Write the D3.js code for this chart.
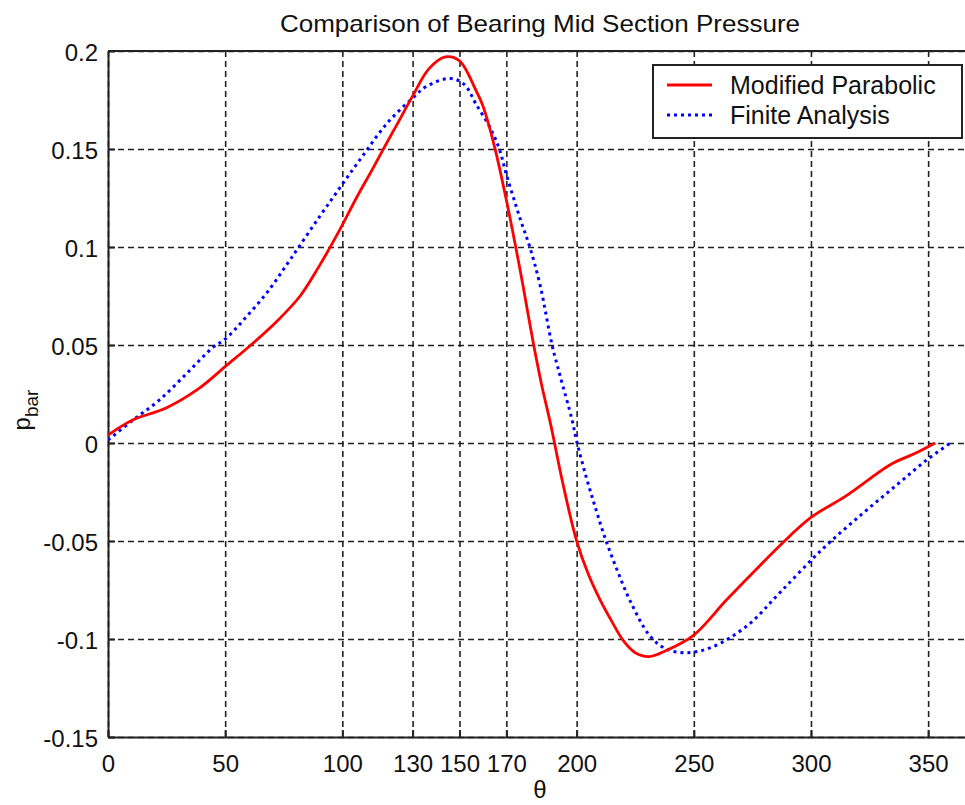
<!DOCTYPE html>
<html>
<head>
<meta charset="utf-8">
<script src="https://cdn.jsdelivr.net/npm/d3@7"></script>
<style>
body { margin: 0; background: #fff; }
svg { display: block; font-family: "Liberation Sans", Arial, sans-serif; }
</style>
</head>
<body>
<main></main>
<script>
// theta (deg) and pressure
const thetaParabolic = [0, 5, 11, 25, 39, 50, 61, 72, 82, 90, 99, 106, 113, 118, 124, 130, 137, 144, 150, 157, 160, 165, 170, 174, 177, 181.5, 185, 189, 194, 200, 205, 210, 215, 220, 225, 231, 238, 250, 264, 277, 287, 300, 315, 334, 345, 353];
const pParabolic = [0.004, 0.008, 0.012, 0.018, 0.028, 0.039, 0.050, 0.062, 0.075, 0.090, 0.109, 0.125, 0.140, 0.151, 0.164, 0.177, 0.191, 0.197, 0.195, 0.180, 0.172, 0.151, 0.124, 0.100, 0.081, 0.051, 0.030, 0.009, -0.020, -0.050, -0.067, -0.080, -0.091, -0.101, -0.107, -0.109, -0.106, -0.098, -0.080, -0.064, -0.052, -0.038, -0.027, -0.011, -0.005, 0];

const thetaFinite = [0, 11, 22, 34, 45, 50, 58, 68, 78, 90, 100, 109, 119, 130, 136, 146, 152, 157, 163, 167, 170, 176, 180, 184.5, 189.5, 193, 198, 200, 204, 208, 212, 217, 223, 231, 238, 247, 258, 273, 287, 305, 322, 337, 349, 359.5];
const pFinite = [0.0015, 0.012, 0.022, 0.036, 0.049, 0.053, 0.063, 0.077, 0.094, 0.115, 0.132, 0.147, 0.163, 0.176, 0.182, 0.186, 0.183, 0.173, 0.161, 0.150, 0.137, 0.114, 0.100, 0.080, 0.050, 0.034, 0.012, 0.001, -0.017, -0.033, -0.048, -0.064, -0.081, -0.098, -0.105, -0.107, -0.104, -0.093, -0.076, -0.054, -0.036, -0.021, -0.009, 0];

const xTicks = [0, 50, 100, 130, 150, 170, 200, 250, 300, 350];
const yTicks = [-0.15, -0.1, -0.05, 0, 0.05, 0.1, 0.15, 0.2];
const seriesNames = ["Modified Parabolic", "Finite Analysis"];

createSVG();

function createSVG(){
    var width = 965;
    var height = 805;
    var left = 108, right = 975, top = 51, bottom = 737;

    var svg = d3.select("main")
    .append("svg")
    .attr("width", width)
    .attr("height", height)

    const xScale = d3.scaleLinear()
    .domain([0, 370])
    .range([left, right])

    const yScale = d3.scaleLinear()
    .domain([-0.15, 0.2])
    .range([bottom, top])

    svg.append("clipPath")
    .attr("id", "plotclip")
    .append("rect")
    .attr("x", left)
    .attr("y", top)
    .attr("width", right-left)
    .attr("height", bottom-top)

    // dashed grid
    svg.append("g")
    .attr("transform", "translate(0," + bottom + ")")
    .call(d3.axisBottom(xScale).tickValues(xTicks).tickSize(-(bottom-top)).tickFormat(""))
    .call(g => g.select(".domain").remove())
    .selectAll("line")
    .attr("stroke", "#222")
    .attr("stroke-width", 1.6)
    .attr("stroke-dasharray", "6,4")

    svg.append("g")
    .attr("transform", "translate(" + left + ",0)")
    .call(d3.axisLeft(yScale).tickValues(yTicks).tickSize(-(right-left)).tickFormat(""))
    .call(g => g.select(".domain").remove())
    .selectAll("line")
    .attr("stroke", "#222")
    .attr("stroke-width", 1.6)
    .attr("stroke-dasharray", "6,4")

    // axes with inward ticks
    var xAxis = svg.append("g")
    .attr("transform", "translate(0," + bottom + ")")
    .call(d3.axisBottom(xScale).tickValues(xTicks).tickSizeInner(-7).tickSizeOuter(0).tickPadding(18).tickFormat(d3.format("d")))
    xAxis.select(".domain").attr("stroke", "#222").attr("stroke-width", 2)
    xAxis.selectAll("line").attr("stroke", "#222").attr("stroke-width", 2)
    xAxis.selectAll("text").attr("font-size", 24).attr("fill", "#111")

    var yAxis = svg.append("g")
    .attr("transform", "translate(" + left + ",0)")
    .call(d3.axisLeft(yScale).tickValues(yTicks).tickSizeInner(-7).tickSizeOuter(0).tickPadding(10).tickFormat(d => String(+d.toFixed(2))))
    yAxis.select(".domain").attr("stroke", "#222").attr("stroke-width", 2)
    yAxis.selectAll("line").attr("stroke", "#222").attr("stroke-width", 2)
    yAxis.selectAll("text").attr("font-size", 24).attr("fill", "#111").attr("dy", "0.4em")

    // top border
    svg.append("line")
    .attr("x1", left).attr("x2", right)
    .attr("y1", top).attr("y2", top)
    .attr("stroke", "#222")
    .attr("stroke-width", 2)

    var line = d3.line()
    .x(d => xScale(d[0]))
    .y(d => yScale(d[1]))
    .curve(d3.curveCatmullRom.alpha(0.5))

    var parabolic = thetaParabolic.map((t, i) => [t, pParabolic[i]]);
    var finite = thetaFinite.map((t, i) => [t, pFinite[i]]);

    svg.append("path")
    .datum(finite)
    .attr("clip-path", "url(#plotclip)")
    .attr("d", line)
    .attr("fill", "none")
    .attr("stroke", "#0000ff")
    .attr("stroke-width", 3)
    .attr("stroke-dasharray", "3,4")

    svg.append("path")
    .datum(parabolic)
    .attr("clip-path", "url(#plotclip)")
    .attr("d", line)
    .attr("fill", "none")
    .attr("stroke", "#ff0000")
    .attr("stroke-width", 2.8)

    // title
    svg.append("text")
    .attr("x", 540)
    .attr("y", 32)
    .attr("text-anchor", "middle")
    .attr("font-size", 24)
    .attr("textLength", 520)
    .attr("lengthAdjust", "spacingAndGlyphs")
    .attr("fill", "#111")
    .text("Comparison of Bearing Mid Section Pressure")

    // axis labels
    svg.append("text")
    .attr("x", 540)
    .attr("y", 798)
    .attr("text-anchor", "middle")
    .attr("font-size", 24)
    .attr("fill", "#111")
    .text("θ")

    var ylab = svg.append("text")
    .attr("transform", "translate(30,410) rotate(-90)")
    .attr("text-anchor", "middle")
    .attr("font-size", 24)
    .attr("fill", "#111")
    ylab.append("tspan").text("p")
    ylab.append("tspan").attr("dy", 8).attr("font-size", 19).text("bar")

    // legend
    var legend = svg.append("g")
    legend.append("rect")
    .attr("x", 653)
    .attr("y", 65)
    .attr("width", 309)
    .attr("height", 73)
    .attr("fill", "#fff")
    .attr("stroke", "#222")
    .attr("stroke-width", 2)

    var styles = [{c: "#ff0000", w: 3, dash: null}, {c: "#0000ff", w: 3, dash: "3,4"}];
    seriesNames.forEach((name, i) => {
        var y = 85 + i*30;
        legend.append("line")
        .attr("x1", 667).attr("x2", 712)
        .attr("y1", y).attr("y2", y)
        .attr("stroke", styles[i].c)
        .attr("stroke-width", styles[i].w)
        .attr("stroke-dasharray", styles[i].dash)
        legend.append("text")
        .attr("x", 730)
        .attr("y", y + 9)
        .attr("font-size", 25)
        .attr("fill", "#111")
        .text(name)
    })
}
</script>
</body>
</html>
